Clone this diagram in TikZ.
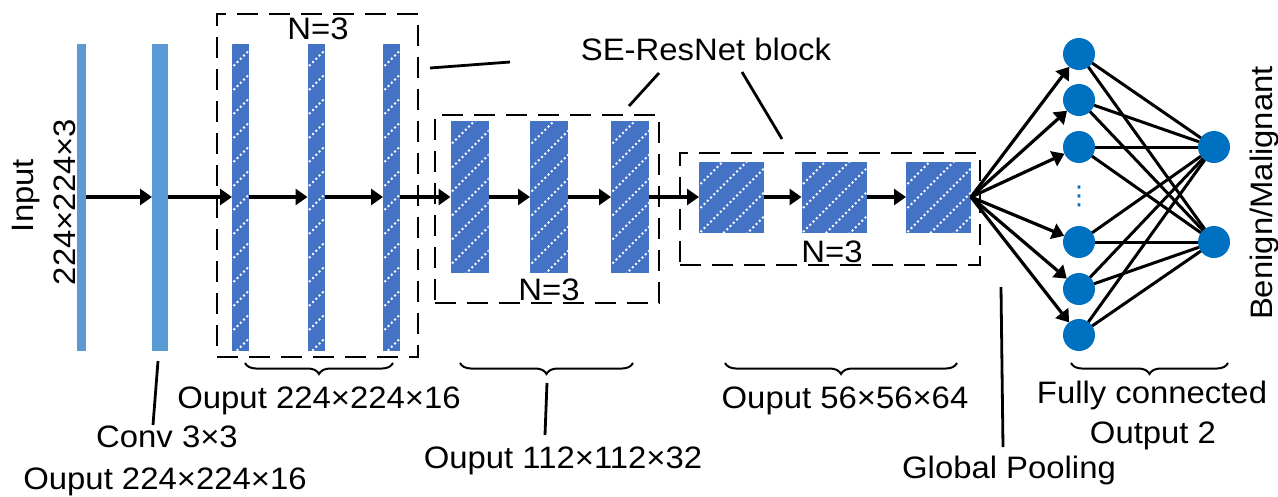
\documentclass[tikz,border=0pt]{standalone}
\usepackage{fontspec}
\setmainfont{Liberation Sans}[FakeStretch=1.06]
\newfontfamily\djv{DejaVu Sans}
\usetikzlibrary{arrows.meta,decorations.pathreplacing,calc}
\definecolor{lightbar}{RGB}{91,155,213}
\definecolor{darkbar}{RGB}{68,114,196}
\definecolor{nodeblue}{RGB}{0,112,192}
\begin{document}
\begin{tikzpicture}[x=1pt,y=-1pt,
  lbl/.style={font=\fontsize{31}{37}\selectfont, inner sep=0pt, anchor=base},
  plainbar/.style={fill=lightbar, draw=none, inner sep=0pt, outer sep=0pt, minimum height=307pt},
  hatchbar/.style={fill=darkbar, draw=none, inner sep=0pt, outer sep=0pt,
     path picture={\foreach \k in {0,...,18}{\draw[white, line width=2pt, dash pattern=on 2pt off 2.6pt] (path picture bounding box.north west) ++(0pt,-\k*24pt) ++(-340pt,-340pt) -- ++(680pt,680pt);}}},
  dbox/.style={draw, dash pattern=on 21pt off 11pt, line width=2.8pt, inner sep=0pt, outer sep=0pt},
  arr/.style={line width=3.2pt, -{Triangle[length=12pt,width=16pt]}},
  link/.style={line width=3pt},
  pointer/.style={line width=2.8pt},
  neuron/.style={circle, fill=nodeblue, minimum size=32pt, inner sep=0pt, outer sep=0pt},
  brc/.style={decorate, decoration={brace, amplitude=11pt}, line width=2pt}
]
\fill[white] (0,0) rectangle (1278,496);
\useasboundingbox (0,0) rectangle (1278,496);

% dashed block frames
\node[dbox, minimum width=201pt, minimum height=343pt] (B1) at (317.5,185.5) {};
\node[dbox, minimum width=224pt, minimum height=188pt] (B2) at (547,209) {};
\node[dbox, minimum width=300pt, minimum height=112pt] (B3) at (830,209) {};

% bars
\node[plainbar, minimum width=9pt] (in) at (81.5,197) {};
\node[plainbar, minimum width=16pt] (cv) at (160,197) {};
\node[hatchbar, minimum width=17pt, minimum height=307pt] (a1) at (240.5,197) {};
\node[hatchbar, minimum width=17pt, minimum height=307pt] (a2) at (316,197) {};
\node[hatchbar, minimum width=17pt, minimum height=307pt] (a3) at (391.5,197) {};
\node[hatchbar, minimum width=38pt, minimum height=152pt] (b1) at (469.5,197) {};
\node[hatchbar, minimum width=38pt, minimum height=152pt] (b2) at (549,197) {};
\node[hatchbar, minimum width=38pt, minimum height=152pt] (b3) at (630,197) {};
\node[hatchbar, minimum width=65pt, minimum height=71pt] (c1) at (731.5,197) {};
\node[hatchbar, minimum width=65pt, minimum height=71pt] (c2) at (834,197) {};
\node[hatchbar, minimum width=65pt, minimum height=71pt] (c3) at (938.5,197) {};

% neurons
\node[neuron] (h1) at (1079,54) {};
\node[neuron] (h2) at (1079,100) {};
\node[neuron] (h3) at (1079,147) {};
\node[neuron] (h4) at (1079,242) {};
\node[neuron] (h5) at (1079,289) {};
\node[neuron] (h6) at (1079,335) {};
\node[neuron] (o1) at (1214,147) {};
\node[neuron] (o2) at (1214,242) {};
\node[text=nodeblue, font=\djv\fontsize{26}{26}\selectfont, inner sep=0pt] (dots) at (1079,196) {⋮};

% main flow arrows
\draw[arr] (in) -- (cv);
\draw[arr] (cv) -- (a1);
\draw[arr] (a1) -- (a2);
\draw[arr] (a2) -- (a3);
\draw[arr] (a3) -- (b1);
\draw[arr] (b1) -- (b2);
\draw[arr] (b2) -- (b3);
\draw[arr] (b3) -- (c1);
\draw[arr] (c1) -- (c2);
\draw[arr] (c2) -- (c3);
\foreach \h in {h1,h2,h3,h4,h5,h6}{
  \draw[arr] (c3.east) -- (\h);
  \draw[link] (\h) -- (o1);
  \draw[link] (\h) -- (o2);
}

% labels
\node[lbl] (n1) at (318,39) {N=3};
\node[lbl] (n2) at (549,300) {N=3};
\node[lbl] (n3) at (832,262) {N=3};
\node[lbl] (se) at (706,60) {SE-ResNet block};
\node[lbl] (out1) at (319,408) {Ouput 224×224×16};
\node[lbl] (conv) at (167,447) {Conv 3×3};
\node[lbl] (out0) at (165,489) {Ouput 224×224×16};
\node[lbl] (out2) at (563,468) {Ouput 112×112×32};
\node[lbl] (out3) at (845,408) {Ouput 56×56×64};
\node[lbl] (gp) at (1009,478) {Global Pooling};
\node[lbl] (fc) at (1152,403) {Fully connected};
\node[lbl] (outfc) at (1153,443) {Output 2};
\node[lbl, rotate=90] (inp) at (33,195.5) {Input};
\node[lbl, rotate=90] (inp2) at (75,202) {224×224×3};
\node[lbl, rotate=90] (bm) at (1272,193) {Benign/Malignant};

% pointer lines
\coordinate (pa1) at (430,68);  \coordinate (pa2) at (510,62);
\coordinate (pb1) at (629,106); \coordinate (pb2) at (659,73);
\coordinate (pc1) at (742,72);  \coordinate (pc2) at (782,139);
\coordinate (pd1) at (158,361); \coordinate (pd2) at (153,425);
\coordinate (pe1) at (547,383); \coordinate (pe2) at (545,435);
\coordinate (pf1) at (1001,287); \coordinate (pf2) at (1003,447);
\draw[pointer] (pa1) -- (pa2);
\draw[pointer] (pb1) -- (pb2);
\draw[pointer] (pc1) -- (pc2);
\draw[pointer] (pd1) -- (pd2);
\draw[pointer] (pe1) -- (pe2);
\draw[pointer] (pf1) -- (pf2);

% braces
\coordinate (r1) at (393,363); \coordinate (l1) at (245,363);
\coordinate (r2) at (633,363); \coordinate (l2) at (460,363);
\coordinate (r3) at (957,363); \coordinate (l3) at (725,363);
\coordinate (r4) at (1228,363); \coordinate (l4) at (1071,363);
\draw[brc] (r1) -- (l1);
\draw[brc] (r2) -- (l2);
\draw[brc] (r3) -- (l3);
\draw[brc] (r4) -- (l4);
\end{tikzpicture}
\end{document}
